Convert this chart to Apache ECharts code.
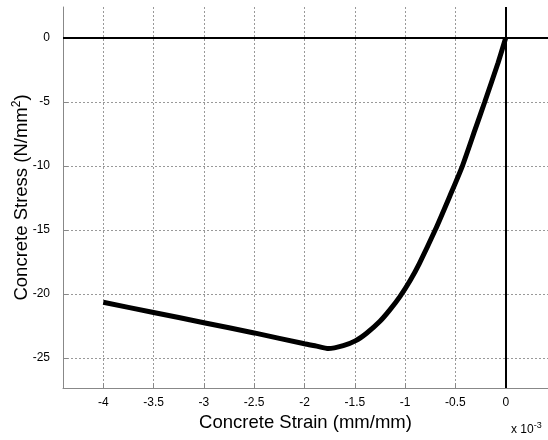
<!DOCTYPE html>
<html>
<head>
<meta charset="utf-8">
<script src="https://cdn.jsdelivr.net/npm/echarts@6/dist/echarts.min.js"></script>
<style>html,body{margin:0;padding:0;background:#fff;}#c{width:548px;height:440px;}</style>
</head>
<body>
<div id="c"></div>
<script>
// Strain values (x 10^-3 mm/mm)
var strain = [-4.0, -3.5, -3.0, -2.5, -2.0, -1.88, -1.763, -1.615, -1.49, -1.38, -1.25, -1.15, -1.05, -0.95, -0.86, -0.70, -0.556, -0.43, -0.304, -0.208, -0.076, 0];
// Stress values (N/mm^2)
var stress = [-20.66, -21.45, -22.25, -23.05, -23.9, -24.08, -24.27, -24.04, -23.65, -23.05, -22.14, -21.23, -20.19, -18.95, -17.65, -15.0, -12.37, -10.0, -7.16, -5.0, -1.95, 0];
var xTicks = [-4, -3.5, -3, -2.5, -2, -1.5, -1, -0.5, 0];
var yTicks = [-25, -20, -15, -10, -5, 0];

var font = '"Liberation Sans", Arial, Helvetica, sans-serif';
var chart = echarts.init(document.getElementById('c'), null, {renderer: 'canvas'});
var pts = strain.map(function (s, i) { return [s, stress[i]]; });

chart.setOption({
  animation: false,
  backgroundColor: '#fff',
  grid: {left: 63, right: 0, top: 7, bottom: 52, containLabel: false, outerBoundsMode: 'none'},
  xAxis: {
    type: 'value', min: -4.4, max: 0.42,
    name: 'Concrete Strain (mm/mm)', nameLocation: 'middle', nameGap: 22,
    nameTextStyle: {fontFamily: font, fontSize: 18.5, color: '#000'},
    axisLine: {onZero: false, lineStyle: {color: '#888', width: 1}},
    axisTick: {inside: true, length: 5, customValues: xTicks, lineStyle: {color: '#888'}},
    axisLabel: {customValues: xTicks, fontFamily: font, fontSize: 12, color: '#000', margin: 9,
      formatter: function (v) { return String(v); }},
    splitLine: {show: true, lineStyle: {color: '#999', type: [2, 2], width: 1}}
  },
  yAxis: {
    type: 'value', min: -27.35, max: 2.4,
    name: '{a|Concrete Stress (N/mm}{s|2}{a|)}', nameLocation: 'middle', nameGap: 30,
    nameMoveOverlap: false,
    nameTextStyle: {
      rich: {
        a: {fontFamily: font, fontSize: 18.5, color: '#000'},
        s: {fontFamily: font, fontSize: 12, color: '#000', verticalAlign: 'top', padding: [0, 0, 10, 0]}
      }
    },
    axisLine: {onZero: false, lineStyle: {color: '#888', width: 1}},
    axisTick: {inside: true, length: 5, customValues: yTicks, lineStyle: {color: '#888'}},
    axisLabel: {customValues: yTicks, fontFamily: font, fontSize: 12, color: '#000', margin: 13},
    splitLine: {show: true, lineStyle: {color: '#999', type: [2, 2], width: 1}}
  },
  series: [{
    type: 'line',
    data: pts,
    showSymbol: false,
    smooth: 0.2,
    lineStyle: {color: '#000', width: 5},
    z: 3,
    markLine: {
      silent: true, symbol: 'none', label: {show: false},
      lineStyle: {color: '#000', width: 2, type: 'solid'},
      data: [{xAxis: 0}, {yAxis: 0}]
    }
  }],
  graphic: [{
    type: 'text', left: 511, top: 421,
    style: {
      text: '{a|x 10}{s|-3}',
      rich: {
        a: {fontFamily: font, fontSize: 12, fill: '#000'},
        s: {fontFamily: font, fontSize: 9, fill: '#000', verticalAlign: 'top', padding: [0, 0, 8, 0]}
      }
    }
  }]
});
</script>
</body>
</html>
